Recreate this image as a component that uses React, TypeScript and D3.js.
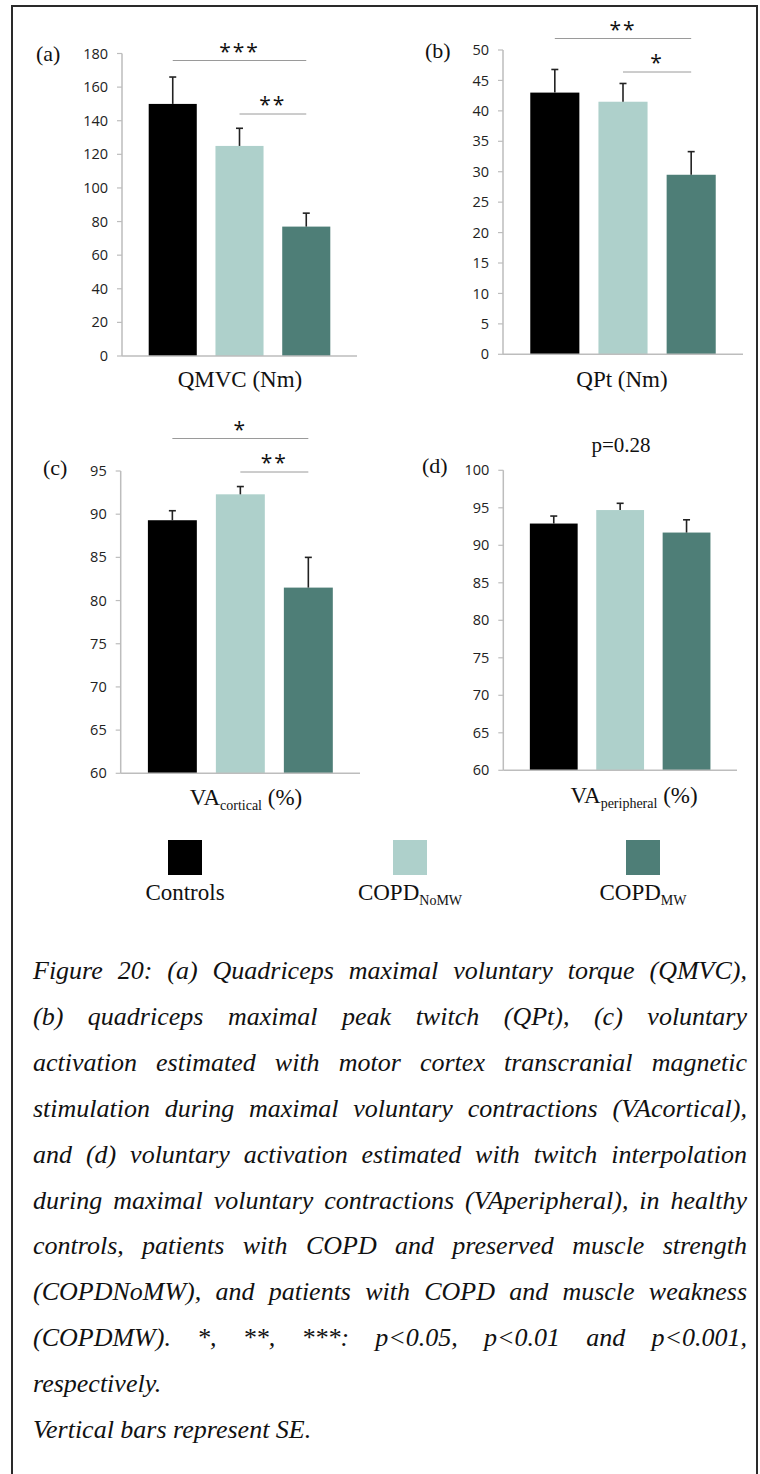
import React, { useMemo } from "react";
import * as d3 from "d3";

// ---------- data ----------
const groups = ["Controls", "COPD_NoMW", "COPD_MW"];
const groupColors = ["#000000", "#aed0cb", "#4e7e77"];

const qmvcMean = [150, 125, 77];
const qmvcSE = [16, 10.5, 8];
const qmvcTicks = [0, 20, 40, 60, 80, 100, 120, 140, 160, 180];

const qptMean = [43, 41.5, 29.5];
const qptSE = [3.8, 3, 3.8];
const qptTicks = [0, 5, 10, 15, 20, 25, 30, 35, 40, 45, 50];

const vaCortMean = [89.3, 92.3, 81.5];
const vaCortSE = [1.1, 0.9, 3.5];
const vaCortTicks = [60, 65, 70, 75, 80, 85, 90, 95];

const vaPeriMean = [92.9, 94.7, 91.7];
const vaPeriSE = [1.0, 0.9, 1.7];
const vaPeriTicks = [60, 65, 70, 75, 80, 85, 90, 95, 100];

const captionLines = [
  "Figure 20: (a) Quadriceps maximal voluntary torque (QMVC),",
  "(b) quadriceps maximal peak twitch (QPt), (c) voluntary",
  "activation estimated with motor cortex transcranial magnetic",
  "stimulation during maximal voluntary contractions (VAcortical),",
  "and (d) voluntary activation estimated with twitch interpolation",
  "during maximal voluntary contractions (VAperipheral), in healthy",
  "controls, patients with COPD and preserved muscle strength",
  "(COPDNoMW), and patients with COPD and muscle weakness",
  "(COPDMW). *, **, ***: p<0.05, p<0.01 and p<0.001,",
  "respectively.",
  "Vertical bars represent SE.",
];

// ---------- layout ----------
type Sig = { from: number; to: number; stars: string; y: number };
type Panel = {
  letter: string;
  mean: number[];
  se: number[];
  ticks: number[];
  axisX: number;
  xEnd: number;
  yTop: number;
  yBottom: number;
  letterX: number;
  letterY: number;
  title: { main: string; sub?: string; tail?: string };
  titleX: number;
  titleY: number;
  sig: Sig[];
  note?: { text: string; x: number; y: number };
};

const panels: Panel[] = [
  {
    letter: "(a)", mean: qmvcMean, se: qmvcSE, ticks: qmvcTicks,
    axisX: 122, xEnd: 357, yTop: 53.5, yBottom: 356,
    letterX: 36, letterY: 61,
    title: { main: "QMVC (Nm)" }, titleX: 240, titleY: 387,
    sig: [
      { from: 0, to: 2, stars: "***", y: 60.5 },
      { from: 1, to: 2, stars: "**", y: 114 },
    ],
  },
  {
    letter: "(b)", mean: qptMean, se: qptSE, ticks: qptTicks,
    axisX: 503, xEnd: 743, yTop: 50, yBottom: 354.3,
    letterX: 425, letterY: 58,
    title: { main: "QPt (Nm)" }, titleX: 622, titleY: 387,
    sig: [
      { from: 0, to: 2, stars: "**", y: 38.5 },
      { from: 1, to: 2, stars: "*", y: 72 },
    ],
  },
  {
    letter: "(c)", mean: vaCortMean, se: vaCortSE, ticks: vaCortTicks,
    axisX: 120.7, xEnd: 360, yTop: 471, yBottom: 773.3,
    letterX: 43, letterY: 475,
    title: { main: "VA", sub: "cortical", tail: " (%)" }, titleX: 246, titleY: 805,
    sig: [
      { from: 0, to: 2, stars: "*", y: 438.5 },
      { from: 1, to: 2, stars: "**", y: 472 },
    ],
  },
  {
    letter: "(d)", mean: vaPeriMean, se: vaPeriSE, ticks: vaPeriTicks,
    axisX: 503.3, xEnd: 737, yTop: 470.3, yBottom: 770.3,
    letterX: 422, letterY: 473,
    title: { main: "VA", sub: "peripheral", tail: " (%)" }, titleX: 634, titleY: 803,
    sig: [],
    note: { text: "p=0.28", x: 621, y: 452 },
  },
];

const legendCenters = [185, 410, 643];
const legendLabels = [
  { main: "Controls" },
  { main: "COPD", sub: "NoMW" },
  { main: "COPD", sub: "MW" },
];

const SERIF = "'Liberation Serif', 'Times New Roman', serif";
const SANS = "'Open Sans', 'DejaVu Sans', sans-serif";

const CAP_FONT_SIZE = 26;
const CAP_LEFT = 33;
const CAP_RIGHT = 747;
const CAP_Y0 = 979;
const CAP_STEP = 45.9;

function measureWords(words: string[], font: string): number[] {
  const c = document.createElement("canvas");
  const ctx = c.getContext("2d")!;
  ctx.font = font;
  return words.map((w) => ctx.measureText(w).width);
}

function PanelChart({ p }: { p: Panel }) {
  const x = d3
    .scaleBand<string>()
    .domain(groups)
    .range([p.axisX, p.xEnd])
    .paddingInner(0.28)
    .paddingOuter(0.4);
  const dom = [p.ticks[0], p.ticks[p.ticks.length - 1]];
  const y = d3.scaleLinear().domain(dom).range([p.yBottom, p.yTop]);
  const bw = x.bandwidth();
  const cx = (i: number) => (x(groups[i]) as number) + bw / 2;

  return (
    <g>
      {/* y axis */}
      <line x1={p.axisX} x2={p.axisX} y1={y(dom[1])} y2={y(dom[0])} stroke="#bdbdbd" strokeWidth={1.5} />
      {p.ticks.map((t) => (
        <g key={t}>
          <line x1={p.axisX - 5} x2={p.axisX} y1={y(t)} y2={y(t)} stroke="#bdbdbd" strokeWidth={1.2} />
          <text x={p.axisX - 14} y={y(t)} dy="0.35em" textAnchor="end" fontFamily={SANS} fontSize={14.5} fill="#222">
            {t}
          </text>
        </g>
      ))}
      {/* bars */}
      {groups.map((g, i) => (
        <rect key={g} x={x(g)} y={y(p.mean[i])} width={bw} height={y(dom[0]) - y(p.mean[i])} fill={groupColors[i]} />
      ))}
      {/* x axis */}
      <line x1={p.axisX} x2={p.xEnd} y1={y(dom[0])} y2={y(dom[0])} stroke="#bdbdbd" strokeWidth={1.5} />
      {/* error bars */}
      {groups.map((g, i) => {
        const top = y(p.mean[i] + p.se[i]);
        return (
          <g key={g} stroke="#222" strokeWidth={1.6}>
            <line x1={cx(i)} x2={cx(i)} y1={y(p.mean[i])} y2={top} />
            <line x1={cx(i) - 3.5} x2={cx(i) + 3.5} y1={top} y2={top} />
          </g>
        );
      })}
      {/* significance */}
      {p.sig.map((s, k) => {
        const x1 = cx(s.from);
        const x2 = cx(s.to);
        return (
          <g key={k}>
            <line x1={x1} x2={x2} y1={s.y} y2={s.y} stroke="#9a9a9a" strokeWidth={1} />
            <text x={(x1 + x2) / 2} y={s.y - 2} textAnchor="middle" fontFamily={SANS} fontSize={21} letterSpacing={2} fill="#111">
              {s.stars}
            </text>
          </g>
        );
      })}
      {p.note && (
        <text x={p.note.x} y={p.note.y} textAnchor="middle" fontFamily={SERIF} fontSize={21} fill="#111">
          {p.note.text}
        </text>
      )}
      {/* panel letter */}
      <text x={p.letterX} y={p.letterY} fontFamily={SERIF} fontSize={22} fill="#111">
        {p.letter}
      </text>
      {/* title */}
      <text x={p.titleX} y={p.titleY} textAnchor="middle" fontFamily={SERIF} fontSize={23} fill="#111">
        <tspan>{p.title.main}</tspan>
        {p.title.sub && (
          <tspan fontSize={14} dy={5}>
            {p.title.sub}
          </tspan>
        )}
        {p.title.tail && <tspan dy={p.title.sub ? -5 : 0}>{p.title.tail}</tspan>}
      </text>
    </g>
  );
}

export default function App() {
  const capFont = `italic ${CAP_FONT_SIZE}px 'Liberation Serif'`;
  const caption = useMemo(() => {
    return captionLines.map((line, li) => {
      const words = line.split(" ");
      const widths = measureWords(words, capFont);
      const justify = li < captionLines.length - 2;
      const space = measureWords([" "], capFont)[0];
      let gap = space;
      if (justify && words.length > 1) {
        const sum = widths.reduce((a, b) => a + b, 0);
        gap = (CAP_RIGHT - CAP_LEFT - sum) / (words.length - 1);
      }
      const xs: number[] = [];
      let cur = CAP_LEFT;
      words.forEach((w, i) => {
        xs.push(cur);
        cur += widths[i] + gap;
      });
      return { words, xs, y: CAP_Y0 + li * CAP_STEP };
    });
  }, [capFont]);

  return (
    <svg
      width={760}
      height={1474}
      style={{ position: "absolute", left: 0, top: 0, background: "#fff" }}
    >
      <rect x={0} y={0} width={760} height={1474} fill="#fff" />
      {/* frame */}
      <path d="M12,1474 V6 H757 V1474" fill="none" stroke="#2a2a2a" strokeWidth={2} />
      {panels.map((p) => (
        <PanelChart key={p.letter} p={p} />
      ))}
      {/* legend */}
      {groups.map((g, i) => (
        <g key={g}>
          <rect x={legendCenters[i] - 17} y={840} width={34} height={35} fill={groupColors[i]} />
          <text x={legendCenters[i]} y={900} textAnchor="middle" fontFamily={SERIF} fontSize={23} fill="#111">
            <tspan>{legendLabels[i].main}</tspan>
            {legendLabels[i].sub && (
              <tspan fontSize={14} dy={5}>
                {legendLabels[i].sub}
              </tspan>
            )}
          </text>
        </g>
      ))}
      {/* caption */}
      {caption.map((ln, li) => (
        <g key={li}>
          {ln.words.map((w, wi) => (
            <text key={wi} x={ln.xs[wi]} y={ln.y} fontFamily={SERIF} fontStyle="italic" fontSize={CAP_FONT_SIZE} fill="#111">
              {w}
            </text>
          ))}
        </g>
      ))}
    </svg>
  );
}
